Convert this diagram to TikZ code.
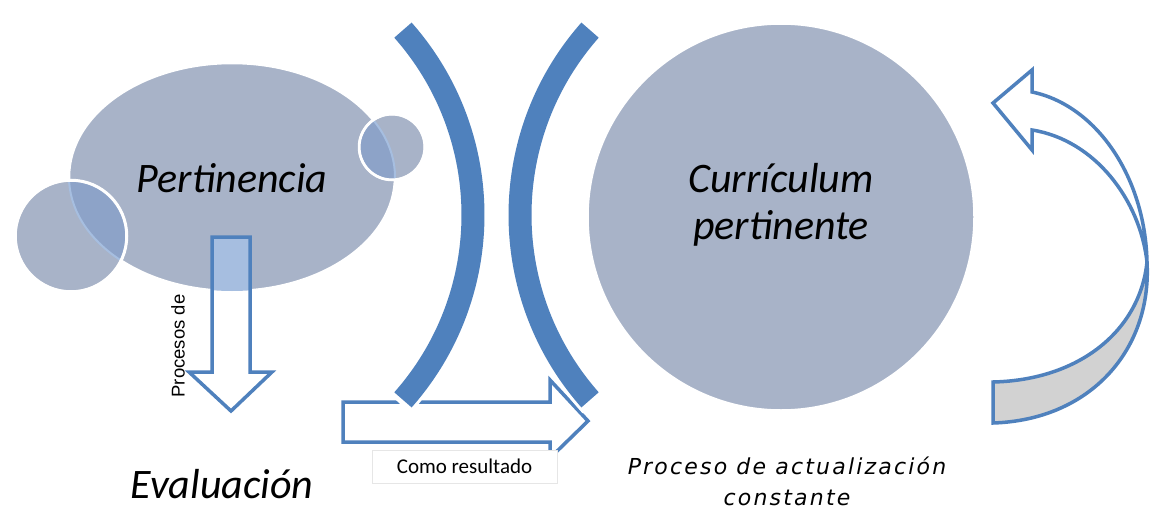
\documentclass[tikz,border=0pt]{standalone}
\usepackage{fontspec}
\setmainfont{Carlito}
\newfontfamily\arialf{Liberation Sans}
\newfontfamily\comicf[LetterSpace=10]{DejaVu Sans}
\usetikzlibrary{shapes.geometric}
\definecolor{gfill}{HTML}{A8B3C8}
\definecolor{bl}{HTML}{4F81BD}
\definecolor{ovl}{HTML}{8DA3C8}
\definecolor{lbl}{HTML}{A6BEE0}
\definecolor{tailg}{HTML}{D2D2D2}
\definecolor{boxg}{HTML}{E6E6E6}
\begin{document}
\begin{tikzpicture}[x=1pt,y=-1pt,
  blob/.style={fill=gfill, draw=white, line width=2.5pt, inner sep=0pt, outer sep=0pt},
  barc/.style={draw=bl, line width=23pt},
  halo/.style={draw=white, line width=29pt},
  outl/.style={draw=bl, line width=3.5pt, line join=miter},
  biglab/.style={font=\itshape\fontsize{42}{47}\selectfont, align=center, inner sep=0pt},
  smalllab/.style={inner sep=0pt}]
\useasboundingbox (0,0) rectangle (1150,513);
\fill[white] (0,0) rectangle (1150,513);

% left group
\node[blob, ellipse, minimum width=326pt, minimum height=228pt] (E) at (232,177) {};
\node[blob, circle, minimum size=112pt] (C1) at (71,236) {};
\node[blob, circle, minimum size=66pt] (C2) at (392,147) {};
\begin{scope}
  \clip (232,177) ellipse [x radius=163, y radius=114];
  \fill[ovl] (71,236) circle [radius=54.5];
  \fill[ovl] (392,147) circle [radius=31.7];
\end{scope}
\begin{scope}
  \clip (71,236) circle [radius=54.5] (392,147) circle [radius=31.7];
  \draw[lbl, line width=2pt] (232,177) ellipse [x radius=163, y radius=114];
\end{scope}
\draw[white, line width=2.5pt] (71,236) circle [radius=55.5];
\draw[white, line width=2.5pt] (392,147) circle [radius=32.7];
\node[biglab] (pert) at (232,178) {Pertinencia};

% down arrow
\fill[white] (212,237) -- (250,237) -- (250,372) -- (272,372) -- (231,411) -- (189,372) -- (212,372) -- cycle;
\begin{scope}
  \clip (232,177) ellipse [x radius=163, y radius=114];
  \fill[lbl] (212,237) -- (250,237) -- (250,372) -- (272,372) -- (231,411) -- (189,372) -- (212,372) -- cycle;
\end{scope}
\draw[outl] (212,237) -- (250,237) -- (250,372) -- (272,372) -- (231,411) -- (189,372) -- (212,372) -- cycle;
\node[smalllab, rotate=90, font=\arialf\fontsize{18.5}{20}\selectfont] (proc) at (178,346) {Procesos de};

% right arrow
\fill[white] (343,402) -- (550,402) -- (550,380) -- (588,421) -- (550,458) -- (550,442) -- (343,442) -- cycle;
\draw[outl] (343,402) -- (550,402) -- (550,380) -- (588,421) -- (550,458) -- (550,442) -- (343,442) -- cycle;
\node[draw=boxg, fill=white, line width=0.8pt, minimum width=185pt, minimum height=33pt, inner sep=0pt,
      font=\fontsize{21}{23}\selectfont] (res) at (464.5,466.5) {Como resultado};

% arcs
\draw[halo] (194,215) ++(-42.5:279) arc[start angle=-42.5, end angle=42.5, radius=279];
\draw[barc] (194,215) ++(-41.5:279) arc[start angle=-41.5, end angle=41.5, radius=279];
\draw[halo] (799,215) ++(222.5:279) arc[start angle=222.5, end angle=137.5, radius=279];
\draw[barc] (799,215) ++(221.5:279) arc[start angle=221.5, end angle=138.5, radius=279];

% big circle
\node[blob, circle, minimum size=387pt] (BC) at (781,217) {};
\node[biglab] (curr) at (781,205) {Currículum\\pertinente};

% curved arrow
\fill[white] (993,103) -- (1032,70) -- (1032,92) .. controls (1095,105) and (1145,175) .. (1147,262)
  .. controls (1140,200) and (1095,140) .. (1032,130) -- (1032,150) -- cycle;
\draw[outl] (993,103) -- (1032,70) -- (1032,92) .. controls (1095,105) and (1145,175) .. (1147,262)
  .. controls (1140,200) and (1095,140) .. (1032,130) -- (1032,150) -- cycle;
\filldraw[outl, fill=tailg] (993,382) -- (993,423) .. controls (1090,420) and (1152,350) .. (1147,262)
  .. controls (1140,330) and (1080,380) .. (993,382) -- cycle;

% bottom labels
\node[biglab] (eval) at (222,484) {Evaluación};
\node[smalllab, font=\comicf\itshape\fontsize{22}{31}\selectfont, align=center] (upd) at (787,481)
  {Proceso de actualización\\constante};
\end{tikzpicture}
\end{document}
